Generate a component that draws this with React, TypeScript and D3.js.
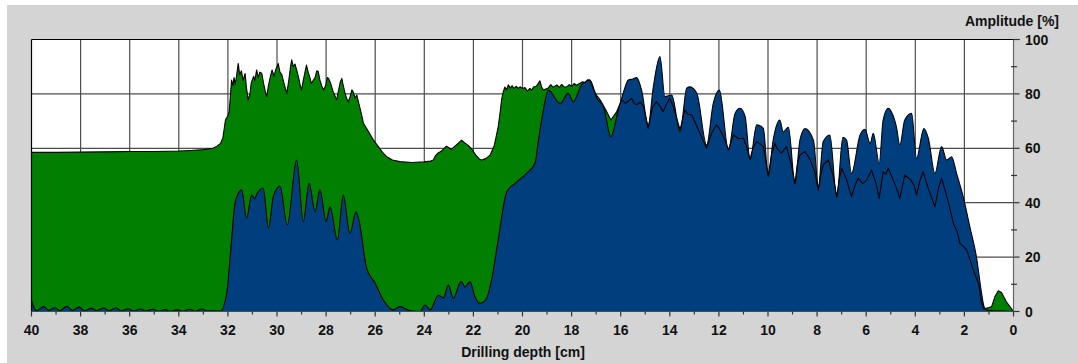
import React from "react";
import * as d3 from "d3";

// [depth cm, amplitude %]
const greenSeries: [number, number][] = [
  [40, 58.5], [39, 58.5], [38, 58.6], [37, 58.7], [36, 58.8], [35, 58.8], [34, 59.0], [33.5, 59.2],
  [33, 59.5], [32.6, 60.0], [32.45, 60.8], [32.3, 61.8], [32.2, 64], [32.1, 70.4], [32.0, 72],
  [31.95, 73.5], [31.9, 79], [31.85, 85.1], [31.8, 83], [31.75, 86], [31.7, 83.5], [31.64, 87],
  [31.58, 91.2], [31.52, 87], [31.45, 88.5], [31.38, 85], [31.3, 87.5], [31.24, 82], [31.17, 77.8],
  [31.1, 80], [31.05, 84], [30.95, 86.5], [30.9, 85], [30.83, 88.8], [30.76, 86], [30.7, 88],
  [30.62, 87.6], [30.55, 84], [30.48, 81], [30.42, 79], [30.35, 83], [30.28, 86], [30.2, 88.8],
  [30.12, 86.5], [30.05, 89], [29.95, 91.2], [29.88, 88], [29.8, 87], [29.72, 84], [29.6, 80.2],
  [29.52, 85], [29.45, 90], [29.4, 92.5], [29.34, 90], [29.27, 91], [29.2, 88.8], [29.12, 86],
  [29.05, 83], [29.0, 81.4], [28.93, 85], [28.86, 88], [28.8, 90.6], [28.73, 88], [28.66, 86],
  [28.6, 83.9], [28.52, 85], [28.45, 86], [28.38, 88.5], [28.32, 88.2], [28.25, 85], [28.18, 83],
  [28.1, 81.4], [28.02, 83], [27.95, 86], [27.9, 85.7], [27.82, 84], [27.72, 81], [27.65, 79.5],
  [27.57, 77.8], [27.5, 81], [27.42, 84.5], [27.36, 85.7], [27.3, 83], [27.22, 80], [27.15, 78],
  [27.1, 77.1], [27.02, 79], [26.95, 81.5], [26.9, 80.8], [26.82, 78.5], [26.75, 79.6], [26.68, 77],
  [26.6, 74], [26.52, 71], [26.48, 69.2], [26.4, 68], [26.3, 66.5], [26.2, 65], [26.07, 63],
  [25.9, 61], [25.7, 58.5], [25.53, 56.9], [25.3, 55.7], [25.0, 55.1], [24.5, 54.8], [24.0, 55.0],
  [23.75, 55.3], [23.63, 55.7], [23.55, 57.2], [23.45, 58.2], [23.3, 59], [23.1, 60.8], [23.0, 60.2],
  [22.9, 59.6], [22.75, 60.8], [22.6, 62], [22.48, 63], [22.35, 62], [22.2, 61], [22.05, 59.5],
  [21.9, 57.5], [21.75, 56], [21.66, 55.7], [21.5, 56.2], [21.32, 57.5], [21.15, 61], [20.99, 67.9],
  [20.9, 74], [20.85, 78], [20.78, 80.8], [20.72, 82.5], [20.65, 81.5], [20.58, 83.3], [20.5, 82.2],
  [20.42, 83], [20.35, 82], [20.25, 82.8], [20.18, 82], [20.1, 82.6], [20.0, 82], [19.9, 82.3],
  [19.8, 81], [19.7, 82], [19.63, 81.4], [19.55, 82.5], [19.45, 82.8], [19.38, 83.5], [19.29, 84.8],
  [19.22, 82.5], [19.15, 81.4], [19.05, 81.8], [18.95, 82.2], [18.85, 83.4], [18.75, 82.5],
  [18.6, 83.3], [18.5, 82.4], [18.4, 83.5], [18.3, 82.5], [18.2, 82.6], [18.1, 83.4], [18.0, 82.8],
  [17.9, 83.8], [17.8, 83.2], [17.66, 83.9], [17.55, 84.5], [17.45, 84], [17.35, 85.2], [17.25, 85.1],
  [17.18, 83.5], [17.1, 81.4], [16.98, 79.5], [16.84, 77.8], [16.6, 74], [16.4, 70.4], [16.16, 73.5],
  [15.96, 77.8], [15.8, 76.5], [15.56, 78.4], [15.45, 76.5], [15.35, 76], [15.2, 77], [15.07, 75.3],
  [14.88, 67.3], [14.7, 75], [14.55, 77.1], [14.4, 75.5], [14.27, 73.5], [14.12, 76.5], [14.0, 78.4],
  [13.85, 75], [13.58, 66.8], [13.45, 72], [13.38, 74], [13.25, 72.5], [13.1, 72.2], [12.95, 69],
  [12.77, 65.5], [12.5, 60], [12.3, 65.5], [12.1, 68.6], [11.98, 67.3], [11.8, 64], [11.61, 59.4],
  [11.41, 64.9], [11.2, 63.5], [11.0, 63.7], [10.85, 60], [10.73, 56], [10.6, 60.5], [10.46, 62.4],
  [10.3, 61.5], [10.19, 60.6], [9.99, 50], [9.85, 58], [9.72, 61.8], [9.6, 59.5], [9.45, 58.2],
  [9.25, 60.6], [9.05, 54], [8.9, 47], [8.8, 54.5], [8.7, 57.5], [8.49, 58.8], [8.28, 55.7],
  [8.1, 51.5], [7.95, 44.6], [7.85, 50], [7.75, 53.9], [7.54, 55.7], [7.35, 50], [7.2, 42.2],
  [7.1, 48.5], [7.0, 52.6], [6.8, 48.5], [6.6, 42.2], [6.45, 46.5], [6.33, 49], [6.15, 47],
  [5.98, 48.3], [5.78, 52], [5.6, 47], [5.47, 41.6], [5.31, 51.4], [5.2, 50.5], [5.1, 52.6],
  [4.9, 48.3], [4.75, 45], [4.63, 41.6], [4.43, 50.2], [4.2, 48.5], [4.05, 46.5], [3.95, 42.8],
  [3.8, 48.5], [3.68, 51.4], [3.5, 46], [3.2, 38.5], [3.05, 45.5], [2.93, 49], [2.8, 45],
  [2.62, 39], [2.45, 32.4], [2.3, 29.5], [2.18, 25], [2.05, 24], [1.91, 22.6], [1.75, 18.5],
  [1.64, 15.3], [1.43, 10.4], [1.3, 3], [1.2, 1], [1.0, 1.5], [0.89, 1.8], [0.76, 5.4], [0.62, 7.6],
  [0.49, 7], [0.29, 3.6], [0.08, 1], [0, 0],
];

const blueSeries: [number, number][] = [
  [40, 4.2], [39.9, 1.5], [39.8, 0.3], [39.5, 1.8], [39.3, 0.4], [39.04, 1.4], [38.85, 0.3],
  [38.55, 1.9], [38.35, 0.4], [38.05, 1.6], [37.85, 0.3], [37.55, 1.2], [37.35, 0.3], [37.05, 1.3],
  [36.85, 0.3], [36.55, 1.4], [36.35, 0.2], [36.05, 1.0], [35.85, 0.2], [35.55, 0.9], [35.35, 0.2],
  [35.05, 0.8], [34.85, 0.1], [34.55, 0.7], [34.35, 0.1], [34.05, 0.6], [33.85, 0.1], [33.55, 0.8],
  [33.35, 0.1], [33.05, 0.9], [32.85, 0.2], [32.55, 0.3], [32.3, 0.2], [32.05, 6.7], [31.85, 26.3],
  [31.71, 39.8], [31.44, 44.7], [31.24, 34.3], [31.03, 42.8], [30.9, 41.5], [30.83, 43], [30.56, 45.3],
  [30.35, 30.6], [30.15, 42.2], [29.88, 46.1], [29.58, 31.8], [29.2, 55.7], [28.93, 33], [28.69, 47.1],
  [28.45, 36.7], [28.25, 44.7], [28.0, 33], [27.84, 38.5], [27.54, 26.3], [27.3, 42.8], [27.03, 28.7],
  [26.78, 36.7], [26.65, 33], [26.35, 15.9], [26.0, 10.4], [25.67, 4.2], [25.26, 0.6], [25.0, 1.8],
  [24.58, 0.3], [24.17, 0], [23.97, 2.4], [23.76, 0.6], [23.43, 6], [23.22, 5], [23.02, 9.7],
  [22.82, 4.9], [22.5, 11], [22.34, 9], [22.14, 11], [21.94, 5.4], [21.73, 3], [21.46, 4.9],
  [21.26, 11.6], [20.99, 26.3], [20.64, 44], [20.3, 47.1], [19.83, 50.8], [19.49, 54.5], [19.35, 63],
  [19.15, 74], [18.95, 81.4], [18.47, 76.5], [18.14, 80.2], [17.93, 77.1], [17.59, 83.3], [17.25, 85],
  [16.97, 78.4], [16.7, 75.3], [16.4, 64.3], [16.1, 74], [15.9, 80.2], [15.69, 85.1], [15.5, 85.5],
  [15.35, 86], [15.15, 81.4], [14.88, 68.6], [14.67, 82.6], [14.4, 93.7], [14.2, 79], [13.92, 79.6],
  [13.58, 66.1], [13.31, 82.1], [13.18, 82.6], [12.9, 80.2], [12.5, 61.2], [12.23, 76.5], [11.98, 81.4],
  [11.61, 59.4], [11.34, 72.9], [11.14, 74.7], [10.93, 71.6], [10.73, 55.7], [10.46, 68.6],
  [10.19, 67.3], [9.99, 49.6], [9.79, 63], [9.52, 70.4], [9.38, 66.1], [9.17, 67.7], [8.9, 47.1],
  [8.7, 63], [8.49, 67.3], [8.15, 63], [7.95, 46], [7.75, 62.5], [7.48, 64.9], [7.2, 42], [6.95, 64],
  [6.8, 63], [6.6, 50.8], [6.25, 64.9], [6.05, 67], [5.84, 61.8], [5.71, 65.5], [5.47, 54.5],
  [5.31, 70.4], [5.1, 74.7], [4.95, 73], [4.77, 67.9], [4.63, 61.2], [4.43, 70.4], [4.15, 72.9],
  [3.95, 56.3], [3.65, 67.3], [3.47, 63.7], [3.2, 50.8], [2.93, 60.6], [2.72, 55.7], [2.52, 56.9],
  [2.32, 50.8], [2.05, 42.2], [1.78, 31.2], [1.51, 20.1], [1.3, 6.7], [1.2, 1.8], [1.1, 0.5],
  [0.8, 0.3], [0.4, 0.2], [0, 0],
];

const xMajorTicks = d3.range(40, -1, -2);
const xMinorTicks = d3.range(39, 0, -2);
const yMajorTicks = [0, 20, 40, 60, 80, 100];
const yMinorTicks = [10, 30, 50, 70, 90];

const width = 1078;
const height = 363;
const left = 31.5;
const right = 1013.5;
const top = 39.5;
const bottom = 311.5;
const font = "'Liberation Sans', Arial, Helvetica, sans-serif";

export default function App() {
  const x = d3.scaleLinear().domain([40, 0]).range([left, right]);
  const y = d3.scaleLinear().domain([0, 100]).range([bottom, top]);

  // green is jagged, blue is smoother
  const greenArea = d3
    .area<[number, number]>()
    .x((d) => x(d[0]))
    .y0(y(0))
    .y1((d) => y(d[1]));
  const greenLine = d3
    .line<[number, number]>()
    .x((d) => x(d[0]))
    .y((d) => y(d[1]));
  const blueArea = d3
    .area<[number, number]>()
    .x((d) => x(d[0]))
    .y0(y(0))
    .y1((d) => y(d[1]))
    .curve(d3.curveMonotoneX);
  const blueLine = d3
    .line<[number, number]>()
    .x((d) => x(d[0]))
    .y((d) => y(d[1]))
    .curve(d3.curveMonotoneX);

  return (
    <svg
      width={width}
      height={height}
      style={{ position: "absolute", left: 0, top: 0, display: "block" }}
    >
      <rect x={7} y={5} width={width - 7} height={height - 5} fill="#d4d4d5" />
      <rect x={left} y={top} width={right - left} height={bottom - top} fill="#fff" />

      {/* grid */}
      {xMajorTicks
        .filter((t) => t !== 40 && t !== 0)
        .map((t) => (
          <line key={"gx" + t} x1={x(t)} x2={x(t)} y1={top} y2={bottom} stroke="#4d4d4d" strokeWidth={1.2} />
        ))}
      {yMajorTicks
        .filter((t) => t !== 0 && t !== 100)
        .map((t) => (
          <line key={"gy" + t} x1={left} x2={right} y1={y(t)} y2={y(t)} stroke="#4d4d4d" strokeWidth={1.2} />
        ))}

      {/* series */}
      <path d={greenArea(greenSeries) ?? ""} fill="#007f00" />
      <path d={blueArea(blueSeries) ?? ""} fill="#003e7e" />
      <path d={greenLine(greenSeries) ?? ""} fill="none" stroke="#000" strokeWidth={1.1} strokeLinejoin="round" />
      <path d={blueLine(blueSeries) ?? ""} fill="none" stroke="#000" strokeWidth={1.1} />

      {/* frame */}
      <line x1={left} x2={right + 6} y1={top} y2={top} stroke="#000" strokeWidth={1.2} />
      <line x1={left} x2={left} y1={top} y2={bottom} stroke="#000" strokeWidth={1.2} />
      <line x1={right} x2={right} y1={top} y2={bottom} stroke="#666" strokeWidth={1.2} />
      <line x1={left} x2={right} y1={bottom} y2={bottom} stroke="#2a5a5a" strokeWidth={1} />

      {/* x axis */}
      {xMajorTicks.map((t) => (
        <g key={"xt" + t}>
          <line x1={x(t)} x2={x(t)} y1={bottom} y2={bottom + 5} stroke="#333" strokeWidth={1.2} />
          <text
            x={x(t)}
            y={334.5}
            textAnchor="middle"
            fontFamily={font}
            fontWeight="bold"
            fontSize={14}
            fill="#111"
          >
            {t}
          </text>
        </g>
      ))}
      {xMinorTicks.map((t) => (
        <line key={"xm" + t} x1={x(t)} x2={x(t)} y1={bottom} y2={bottom + 3} stroke="#333" strokeWidth={1.2} />
      ))}
      <text x={523} y={357} textAnchor="middle" fontFamily={font} fontWeight="bold" fontSize={14} fill="#111">
        Drilling depth [cm]
      </text>

      {/* y axis */}
      {yMajorTicks.map((t) => (
        <g key={"yt" + t}>
          <line x1={right} x2={right + 6} y1={y(t)} y2={y(t)} stroke="#333" strokeWidth={1.2} />
          <text
            x={1025}
            y={y(t) + 5}
            fontFamily={font}
            fontWeight="bold"
            fontSize={14}
            fill="#111"
          >
            {t}
          </text>
        </g>
      ))}
      {yMinorTicks.map((t) => (
        <line key={"ym" + t} x1={right - 2.5} x2={right + 3.5} y1={y(t)} y2={y(t)} stroke="#333" strokeWidth={1.2} />
      ))}
      <text x={1059} y={25.5} textAnchor="end" fontFamily={font} fontWeight="bold" fontSize={14} fill="#111">
        Amplitude [%]
      </text>
    </svg>
  );
}
